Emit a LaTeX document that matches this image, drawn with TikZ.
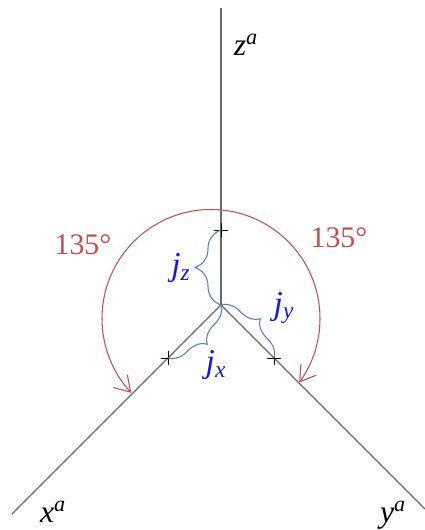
\documentclass[tikz,border=0pt]{standalone}
\usepackage{fontspec}
\setmainfont{Liberation Serif}
\usepackage{xcolor}
\definecolor{axisGray}{RGB}{105,105,105}
\definecolor{arcRed}{RGB}{192,80,77}
\definecolor{braceBlue}{RGB}{79,129,189}
\definecolor{labelBlue}{RGB}{20,20,235}
\usepackage{tikz}
\usetikzlibrary{arrows.meta, shapes.misc, decorations.pathreplacing}

\begin{document}
\begin{tikzpicture}[x=0.02cm, y=0.02cm,
  axis/.style={draw=axisGray, line width=0.7pt},
  tickmark/.style={draw=black, cross out, rotate=45, line width=0.5pt,
                   minimum size=0.18cm, inner sep=0pt},
  axlbl/.style={font=\fontsize{18}{21}\selectfont\itshape, inner sep=0pt},
  anglbl/.style={font=\fontsize{17}{20}\selectfont, text=arcRed, inner sep=0pt},
  jlbl/.style={font=\fontsize{19}{22}\selectfont\itshape, text=labelBlue, inner sep=0pt},
  degarc/.style={draw=arcRed, line width=0.6pt,
                 -{Straight Barb[length=0.3cm, width=0.38cm]}},
  brc/.style={draw=braceBlue, line width=0.6pt, decorate,
              decoration={brace, amplitude=#1}}]

  \useasboundingbox (-221,-225) rectangle (204,305);

  % ── Axes ──────────────────────────────────────────────────────────
  \coordinate (O) at (0,0);
  \coordinate (zend) at (0,297);
  \coordinate (xend) at (-209,-209);
  \coordinate (yend) at (204,-204);
  \draw[axis] (O) -- (zend);
  \draw[axis] (O) -- (xend);
  \draw[axis] (O) -- (yend);

  \node[axlbl] (zlbl) at (25,260)   {z\textsuperscript{a}};
  \node[axlbl] (xlbl) at (-168,-207) {x\textsuperscript{a}};
  \node[axlbl] (ylbl) at (172,-210) {y\textsuperscript{a}};

  % ── Tick marks ────────────────────────────────────────────────────
  \node[tickmark] (tz) at (0,75) {};
  \node[tickmark] (tx) at (-53,-53) {};
  \node[tickmark] (ty) at (53,-53) {};

  % ── Braces and lengths ────────────────────────────────────────────
  \draw[brc=0.52cm] (O) -- (tz.center);
  \draw[brc=0.36cm] (O) -- (tx.center);
  \draw[brc=0.36cm] (O) -- (ty.center);

  \node[jlbl] (jz) at (-40,37)  {j\textsubscript{z}};
  \node[jlbl] (jy) at (63,-3)   {j\textsubscript{y}};
  \node[jlbl] (jx) at (-5,-60)  {j\textsubscript{x}};

  % ── Angles ────────────────────────────────────────────────────────
  \coordinate (arcc) at (-10,-13.5);
  \draw[degarc] ([shift={(90:109)}]arcc) arc[start angle=90, end angle=-36, radius=109];
  \draw[degarc] ([shift={(90:109)}]arcc) arc[start angle=90, end angle=223, radius=109];

  \node[anglbl] (angl) at (-138,60) {135°};
  \node[anglbl] (angr) at (118,67)  {135°};

\end{tikzpicture}
\end{document}
